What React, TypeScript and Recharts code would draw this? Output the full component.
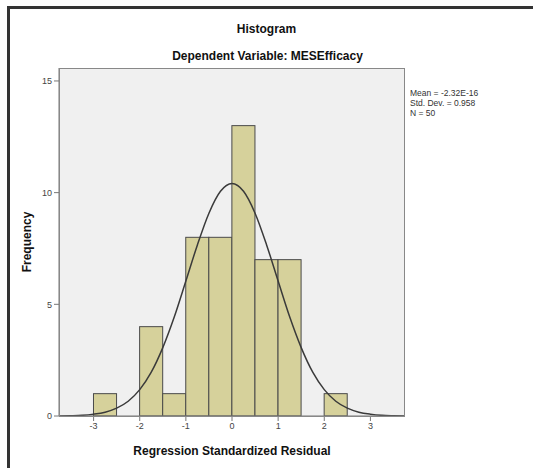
import { ComposedChart, Bar, Line, XAxis, YAxis, CartesianGrid } from 'recharts';

// histogram bins (bin centre, count), bin width 0.5
const binCenters = [-2.75, -1.75, -1.25, -0.75, -0.25, 0.25, 0.75, 1.25, 2.25];
const binCounts = [1, 4, 1, 8, 8, 13, 7, 7, 1];

// normal curve
const curveX = [-3.75, -3.5, -3.25, -3, -2.75, -2.5, -2.25, -2, -1.75, -1.5, -1.25, -1, -0.75, -0.5, -0.25, 0, 0.25, 0.5, 0.75, 1, 1.25, 1.5, 1.75, 2, 2.25, 2.5, 2.75, 3, 3.25, 3.5, 3.75];
const curveY = [0.005, 0.013, 0.03, 0.08, 0.17, 0.35, 0.66, 1.18, 1.96, 3.06, 4.44, 6.04, 7.66, 9.08, 10.06, 10.41, 10.06, 9.08, 7.66, 6.04, 4.44, 3.06, 1.96, 1.18, 0.66, 0.35, 0.17, 0.08, 0.03, 0.013, 0.005];

const xTicks = [-3, -2, -1, 0, 1, 2, 3];
const yTicks = [0, 5, 10, 15];

const stats = ['Mean = -2.32E-16', 'Std. Dev. = 0.958', 'N = 50'];

const bins = binCenters.map((x, i) => ({ x, count: binCounts[i] }));
const curve = curveX.map((x, i) => ({ x, y: curveY[i] }));

const FONT = '"Liberation Sans", Arial, sans-serif';
const PLOT = { left: 59, top: 68, right: 405, bottom: 416 };
const plotW = PLOT.right - PLOT.left;
const binPx = (plotW / 7.5) * 0.5;

// recharts narrows bars on a number axis, so widen them to the full bin around their centre
function BinBar(props: any) {
  const { x, y, width, height } = props;
  if (!height) return null;
  const cx = x + width / 2;
  return <rect x={cx - binPx / 2} y={y} width={binPx} height={height} fill="#d6d19b" stroke="#4a4a4a" strokeWidth={1} />;
}

export default function App() {
  return (
    <div style={{ position: 'absolute', left: 0, top: 0, width: 533, height: 468, background: '#fff', overflow: 'hidden', fontFamily: FONT }}>
      <div style={{ position: 'absolute', left: 7, top: 6, width: 560, height: 500, borderTop: '3px solid #333', borderLeft: '3px solid #333' }} />

      <div style={{ position: 'absolute', left: 0, width: 533, top: 22, textAlign: 'center', fontWeight: 'bold', fontSize: 12, color: '#111' }}>Histogram</div>
      <div style={{ position: 'absolute', left: 0, width: 535, top: 49, textAlign: 'center', fontWeight: 'bold', fontSize: 12, color: '#111' }}>Dependent Variable: MESEfficacy</div>

      <div style={{ position: 'absolute', left: 0, top: 0 }}>
        <ComposedChart
          width={533}
          height={468}
          data={bins}
          margin={{ top: PLOT.top, right: 533 - PLOT.right, bottom: 468 - PLOT.bottom - 20, left: PLOT.left - 30 }}
        >
          <CartesianGrid fill="#f0f0f0" horizontal={false} vertical={false} stroke="none" />
          <XAxis
            type="number"
            dataKey="x"
            domain={[-3.75, 3.75]}
            ticks={xTicks}
            allowDataOverflow
            height={20}
            axisLine={{ stroke: '#777' }}
            tickLine={{ stroke: '#777' }}
            tickSize={5}
            tick={{ fontSize: 9, fill: '#444', fontFamily: FONT }}
          />
          <YAxis
            type="number"
            domain={[0, 15.58]}
            ticks={yTicks}
            allowDataOverflow
            width={30}
            axisLine={{ stroke: '#777' }}
            tickLine={{ stroke: '#777' }}
            tickSize={5}
            tick={{ fontSize: 9, fill: '#444', fontFamily: FONT }}
          />
          <Bar dataKey="count" fill="#d6d19b" shape={<BinBar />} isAnimationActive={false} />
          <Line data={curve} dataKey="y" type="monotone" stroke="#3a3a3a" strokeWidth={1.5} dot={false} activeDot={false} isAnimationActive={false} />
        </ComposedChart>
      </div>

      <div style={{ position: 'absolute', left: PLOT.left, top: PLOT.top, width: plotW - 2, height: PLOT.bottom - PLOT.top - 1, border: '1px solid #888', pointerEvents: 'none' }} />

      <div style={{ position: 'absolute', left: 410, top: 88, fontSize: 8.5, lineHeight: '10px', color: '#333' }}>
        {stats.map((s) => (
          <div key={s}>{s}</div>
        ))}
      </div>

      <div style={{ position: 'absolute', left: PLOT.left, width: plotW, top: 444, textAlign: 'center', fontWeight: 'bold', fontSize: 12, color: '#111' }}>
        Regression Standardized Residual
      </div>
      <div style={{ position: 'absolute', left: 27, top: 242, transform: 'translate(-50%, -50%) rotate(-90deg)', fontWeight: 'bold', fontSize: 12, color: '#111', whiteSpace: 'nowrap' }}>
        Frequency
      </div>
    </div>
  );
}
